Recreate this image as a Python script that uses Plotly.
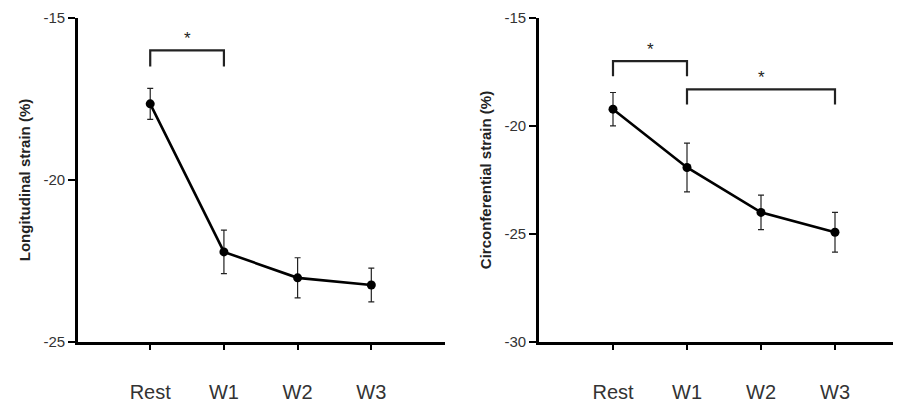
import plotly.graph_objects as go

categories = ["Rest", "W1", "W2", "W3"]

long_mean = [-17.65, -22.22, -23.02, -23.24]
long_err = [0.48, 0.67, 0.62, 0.52]

circ_mean = [-19.22, -21.92, -24.0, -24.92]
circ_err = [0.77, 1.13, 0.8, 0.92]

long_ticks = [-25, -20, -15]
long_tick_labels = ["-25", "-20", "-15"]
circ_ticks = [-30, -25, -20, -15]
circ_tick_labels = ["-30", "-25", "-20", "-15"]

# significance brackets: (from index, to index, bar level, leg end level)
long_sig = [(0, 1, -16.0, -16.5)]
circ_sig = [(0, 1, -17.0, -17.7), (1, 3, -18.3, -19.0)]

FONT = "Liberation Sans, Arial, sans-serif"
xpos = list(range(len(categories)))

fig = go.Figure()

def add_series(mean, err, xa, ya):
    fig.add_trace(go.Scatter(
        x=xpos, y=mean, xaxis=xa, yaxis=ya, mode="lines+markers",
        line=dict(color="black", width=2.6),
        marker=dict(color="black", size=9),
        error_y=dict(type="data", array=err, visible=True, color="#222",
                     thickness=1.2, width=3),
        showlegend=False, hoverinfo="skip"))

add_series(long_mean, long_err, "x", "y")
add_series(circ_mean, circ_err, "x2", "y2")

def add_brackets(sig, xa, ya):
    for a, b, top, leg in sig:
        fig.add_shape(type="path",
                      path=f"M {a} {leg} L {a} {top} L {b} {top} L {b} {leg}",
                      xref=xa, yref=ya, line=dict(color="#222", width=2.2))
        fig.add_annotation(x=(a + b) / 2, y=top, xref=xa, yref=ya, text="*",
                           showarrow=False, yanchor="bottom", yshift=0,
                           font=dict(family=FONT, size=17, color="#222"))

add_brackets(long_sig, "x", "y")
add_brackets(circ_sig, "x2", "y2")

xcommon = dict(tickvals=xpos, ticktext=categories, showline=True,
               linecolor="black", linewidth=2.6, ticks="outside", ticklen=5,
               tickwidth=1.5, tickcolor="black", showgrid=False, zeroline=False,
               ticklabelstandoff=25, automargin=False,
               tickfont=dict(family=FONT, size=20, color="#333"))
ycommon = dict(showline=True, linecolor="black", linewidth=2.6,
               ticks="outside", ticklen=7, tickwidth=1.5, tickcolor="black",
               showgrid=False, zeroline=False, automargin=False,
               tickfont=dict(family=FONT, size=15, color="#333"))

fig.update_layout(
    width=901, height=403,
    margin=dict(l=0, r=0, t=9.5, b=69, autoexpand=False),
    paper_bgcolor="white", plot_bgcolor="white",
    xaxis=dict(domain=[70 / 901, 437 / 901], range=[-0.98, 4.0],
               anchor="y", **xcommon),
    yaxis=dict(domain=[0, 1], range=[-25, -15], tickvals=long_ticks,
               ticktext=long_tick_labels, anchor="x",
               title=dict(text="<b>Longitudinal strain (%)</b>", standoff=10,
                          font=dict(family=FONT, size=15, color="#222")),
               **ycommon),
    xaxis2=dict(domain=[531 / 901, 1.0], range=[-1.0, 4.0],
                anchor="y2", **xcommon),
    yaxis2=dict(domain=[0, 1], range=[-30, -15], tickvals=circ_ticks,
                ticktext=circ_tick_labels, anchor="x2",
                title=dict(text="<b>Circonferential strain (%)</b>", standoff=10,
                           font=dict(family=FONT, size=15, color="#222")),
                **ycommon),
)

fig.write_html("out.html")
